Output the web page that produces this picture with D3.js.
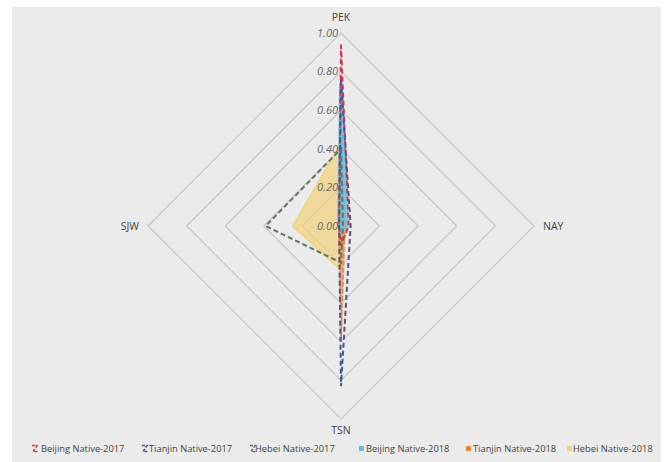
<!DOCTYPE html>
<html><head><meta charset="utf-8">
<script src="https://cdn.jsdelivr.net/npm/d3@7"></script>
<style>body{margin:0;background:#fff;} text{font-family:"Open Sans","Segoe UI",sans-serif;}</style>
</head><body><svg id="c" width="664" height="462"></svg>
<script>
const axes = ["PEK","NAY","TSN","SJW"];
const ticks = [0, 0.2, 0.4, 0.6, 0.8, 1.0];
const seriesNames = ["Beijing Native-2017","Tianjin Native-2017","Hebei Native-2017","Beijing Native-2018","Tianjin Native-2018","Hebei Native-2018"];
const beijing2017 = [0.94, 0.04, 0.10, 0.01];
const tianjin2017 = [0.76, 0.05, 0.83, 0.01];
const hebei2017   = [0.40, 0.01, 0.19, 0.39];
const beijing2018 = [0.72, 0.03, 0.03, 0.01];
const tianjin2018 = [0.40, 0.02, 0.60, 0.01];
const hebei2018   = [0.43, 0.02, 0.23, 0.25];
const seriesValues = [beijing2017, tianjin2017, hebei2017, beijing2018, tianjin2018, hebei2018];
const colors = ["#d8334a","#4b5690","#5e7a62","#5cc3e0","#e8843c","#f3d27a"];
const filled = [false,false,false,true,true,true];

const svg = d3.select("#c");
svg.append("rect").attr("x",12).attr("y",7).attr("width",649).attr("height",455).attr("fill","#ebebeb");
const cx = 341, cy = 226, R = 193;
const r = d3.scaleLinear().domain([0,1]).range([0,R]);
const ang = d3.scalePoint().domain(axes.concat(["_"])).range([0, 2*Math.PI]);
const pt = (a, v) => [cx + r(v)*Math.sin(ang(a)), cy - r(v)*Math.cos(ang(a))];
const line = d3.line().curve(d3.curveLinearClosed);

// rings
ticks.filter(t=>t>0).forEach(t=>{
  svg.append("path").attr("d", line(axes.map(a=>pt(a,t))))
    .attr("fill","none").attr("stroke","#c6c6c6").attr("stroke-width",1.2);
});

// series: filled first then dashed on top
const order = [5,4,3,2,0,1];
order.forEach(i=>{
  const pts = axes.map((a,k)=>pt(a, seriesValues[i][k]));
  const p = svg.append("path").attr("d", line(pts));
  if (filled[i]) {
    p.attr("fill", colors[i]).attr("fill-opacity", i===5?0.7:0.6)
     .attr("stroke", colors[i]).attr("stroke-width", i===3?4:1.8).attr("stroke-opacity",i===3?0.8:0.85);
    if (i===4) p.attr("stroke-dasharray","5,2");
  } else {
    p.attr("fill","none").attr("stroke", colors[i]).attr("stroke-width",2).attr("stroke-dasharray","5,3");
  }
});

// tick labels
ticks.forEach(t=>{
  svg.append("text").attr("x", cx-3).attr("y", cy - r(t)).attr("dy","0.35em")
    .attr("text-anchor","end").attr("font-size",11).attr("font-style","italic")
    .attr("fill","#666").text(d3.format(".2f")(t));
});

// axis labels
const labelPos = {PEK:[cx, cy-R-16, "middle"], NAY:[cx+R+9, cy, "start"], TSN:[cx, cy+R+11, "middle"], SJW:[cx-R-9, cy, "end"]};
axes.forEach(a=>{
  const [x,y,anc] = labelPos[a];
  svg.append("text").attr("x",x).attr("y",y).attr("dy","0.35em").attr("text-anchor",anc)
    .attr("font-size",10.5).attr("fill","#444").text(a);
});

// legend
const legIcon = [33, 143, 251, 360, 467, 568];
const legText = [41, 149, 255, 366, 473, 573];
const ly = 449;
seriesNames.forEach((n,i)=>{
  const g = svg.append("g").attr("transform",`translate(${legIcon[i]},${ly})`);
  if (!filled[i]) {
    g.append("path").attr("d","M-1,-3.5 L4,-3.5 L0,2.5 L5,2.5").attr("fill","none")
      .attr("stroke",colors[i]).attr("stroke-width",1.6).attr("stroke-dasharray","3,1.5");
  } else {
    g.append("rect").attr("x",-1).attr("y",-3).attr("width",5).attr("height",5).attr("fill",colors[i]);
  }
  svg.append("text").attr("x", legText[i]).attr("y",ly).attr("dy","0.35em")
    .attr("font-size",9.3).attr("fill","#444").text(n);
});
</script></body></html>
